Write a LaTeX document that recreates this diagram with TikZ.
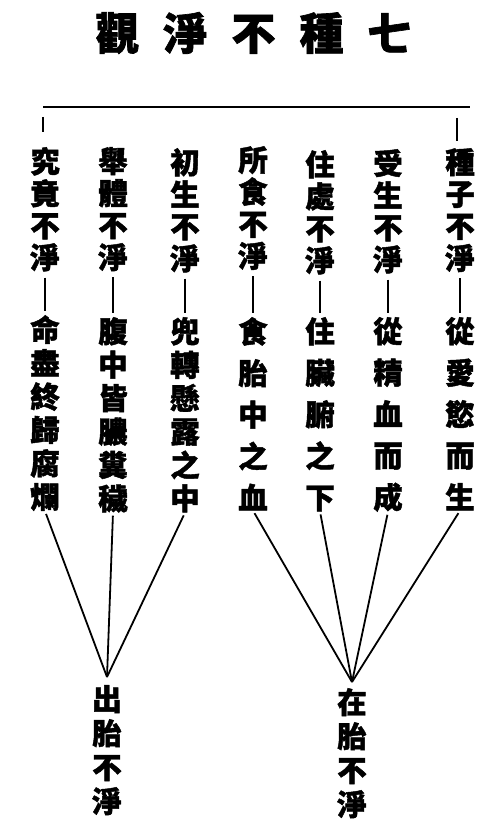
\documentclass[tikz,border=0pt]{standalone}
\usepackage{fontspec}
\newfontfamily\cjk{Noto Sans CJK TC}[BoldFeatures={FakeBold=1.5}]
\begin{document}
\begin{tikzpicture}[x=1pt,y=-1pt,
  title/.style={font=\cjk\bfseries\fontsize{44}{48}\selectfont, inner sep=0pt},
  headtxt/.style={font=\cjk\bfseries\fontsize{29.5}{32}\selectfont, align=center, inner sep=0pt, anchor=north},
  tailsix/.style={font=\cjk\bfseries\fontsize{29.5}{33.4}\selectfont, align=center, inner sep=0pt, anchor=north},
  tailfive/.style={font=\cjk\bfseries\fontsize{29.5}{41.5}\selectfont, align=center, inner sep=0pt, anchor=north},
  bottomtxt/.style={font=\cjk\bfseries\fontsize{29.5}{34}\selectfont, align=center, inner sep=0pt, anchor=north},
  dashline/.style={line width=2.8pt, shorten <=6pt, shorten >=4pt},
  branch/.style={line width=1.8pt, shorten <=3pt},
  bracket/.style={line width=1.8pt}]
\useasboundingbox (0,0) rectangle (500,834);
% title
\node[title] (ttl) at (253.5,33) {觀\hspace{24pt}淨\hspace{24pt}不\hspace{24pt}種\hspace{24pt}七};
% bracket
\draw[bracket] (43,107) -- (470,107);
\draw[line width=2pt] (43,117) -- (43,132);
\draw[line width=2.6pt] (457,118) -- (457,141);
% heads
\node[headtxt] (h1) at (460,148) {種\\子\\不\\淨};
\node[headtxt] (h2) at (388,149) {受\\生\\不\\淨};
\node[headtxt] (h3) at (320,150) {住\\處\\不\\淨};
\node[headtxt] (h4) at (253,146) {所\\食\\不\\淨};
\node[headtxt] (h5) at (185,148) {初\\生\\不\\淨};
\node[headtxt] (h6) at (113,147) {舉\\體\\不\\淨};
\node[headtxt] (h7) at (45,147) {究\\竟\\不\\淨};
% tails
\node[tailfive] (t1) at (460,317) {從\\愛\\慾\\而\\生};
\node[tailfive] (t2) at (388,317) {從\\精\\血\\而\\成};
\node[tailfive] (t3) at (320,317) {住\\臟\\腑\\之\\下};
\node[tailfive] (t4) at (253,317) {食\\胎\\中\\之\\血};
\node[tailsix] (t5) at (185,317) {兜\\轉\\懸\\露\\之\\中};
\node[tailsix] (t6) at (113,317) {腹\\中\\皆\\膿\\糞\\穢};
\node[tailsix] (t7) at (45,315) {命\\盡\\終\\歸\\腐\\爛};
% dashes
\foreach \i in {1,...,7} \draw[dashline] (h\i.south) -- (t\i.north);
% bottom groups
\node[bottomtxt] (b1) at (107,685) {出\\胎\\不\\淨};
\node[bottomtxt] (b2) at (352,688) {在\\胎\\不\\淨};
\foreach \i in {5,6,7} \draw[branch] (t\i.south) -- ([yshift=8pt]b1.north);
\foreach \i in {1,2,3,4} \draw[branch] (t\i.south) -- ([yshift=6pt]b2.north);
\end{tikzpicture}
\end{document}
